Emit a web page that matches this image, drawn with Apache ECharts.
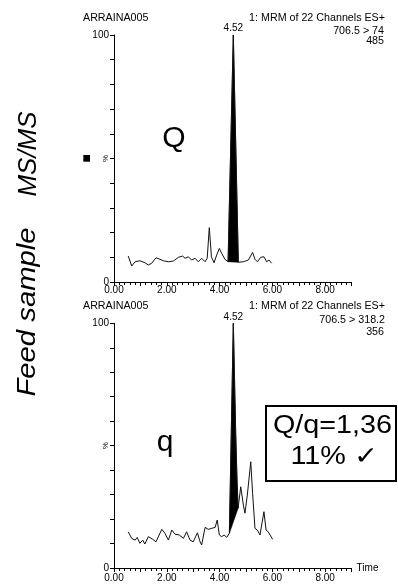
<!DOCTYPE html>
<html><head><meta charset="utf-8">
<script src="https://cdn.jsdelivr.net/npm/echarts@6/dist/echarts.min.js"></script>
<style>html,body{margin:0;padding:0;background:#fff}#c{width:398px;height:584px}</style>
</head><body><div id="c"></div>
<script>
// ---- data ----
const xTickLabels = ['0.00', '2.00', '4.00', '6.00', '8.00'];
const yTickLabels = ['0', '100'];

// Q trace: 706.5 > 74
const topTime = [0.54,0.67,0.80,0.98,1.17,1.30,1.43,1.59,1.74,1.87,2.06,2.25,2.44,2.60,2.69,2.82,2.94,3.07,3.19,3.32,3.45,3.53,3.61,3.69,3.79,3.89,3.99,4.08,4.20,4.32,4.52,4.71,4.75,4.90,5.09,5.25,5.34,5.43,5.56,5.68,5.78,5.87,5.97];
const topValue = [10.5,6.5,8.2,8.6,7.8,6.9,7.6,9.8,9.2,8.6,8.2,8.5,10.0,10.5,9.6,10.2,8.9,9.6,8.2,9.6,8.2,9.6,22.0,10.2,7.8,10.9,13.6,11.6,9.2,8.2,100,8.0,7.8,8.2,8.9,12.0,9.2,8.2,10.0,10.2,8.2,8.9,7.6];
const topPeakTime = [4.32,4.52,4.71];
const topPeakValue = [8.2,100,8.0];

// q trace: 706.5 > 318.2
const botTime = [0.54,0.67,0.80,0.88,0.98,1.09,1.17,1.30,1.47,1.59,1.81,1.93,2.06,2.19,2.31,2.47,2.63,2.75,2.88,3.00,3.16,3.26,3.32,3.45,3.57,3.70,3.83,3.91,3.99,4.08,4.17,4.27,4.37,4.52,4.61,4.66,4.70,4.80,4.90,4.96,5.05,5.10,5.18,5.25,5.34,5.43,5.53,5.68,5.76,5.84,6.01];
const botValue = [14.8,12.1,11.4,12.5,10.1,11.4,9.8,12.8,11.7,10.7,15.8,14.2,11.4,15.5,13.8,13.5,12.1,14.8,11.4,10.7,14.4,10.7,9.4,16.6,15.8,16.2,16.6,19.6,13.5,12.8,13.5,12.5,14.2,100,55,36,24.4,33.2,25.7,22.4,29.8,29.1,43.4,30.5,16.2,15.5,13.5,23.0,15.5,14.8,11.7];
const botPeakTime = [4.37,4.52,4.61,4.66,4.70];
const botPeakValue = [14.2,100,55,36,24.4];

const peakTimeLabel = '4.52';

// ---- chart ----
const FONT = '"Liberation Sans", Arial, sans-serif';
const chart = echarts.init(document.getElementById('c'), null, {renderer: 'canvas'});
const zip = (a, b) => a.map((v, i) => [v, b[i]]);

function mkX(idx, margin, name) {
  return {
    type: 'value', gridIndex: idx, min: 0, max: 9, interval: 1,
    name: name || '', nameLocation: 'end', nameGap: 5, nameMoveOverlap: false,
    nameTextStyle: {color: '#000', fontSize: 10, fontFamily: FONT, verticalAlign: 'middle'},
    axisLine: {show: true, lineStyle: {color: '#000', width: 1}},
    axisTick: {show: true, length: 4, lineStyle: {color: '#000'}},
    minorTick: {show: true, splitNumber: 5, length: 3, lineStyle: {color: '#000'}},
    splitLine: {show: false}, minorSplitLine: {show: false},
    axisLabel: {
      show: true, margin: margin, color: '#000', fontSize: 10, fontFamily: FONT,
      formatter: v => { const s = xTickLabels.find(t => parseFloat(t) === v); return s || ''; }
    }
  };
}
function mkY(idx) {
  return {
    type: 'value', gridIndex: idx, min: 0, max: 100, interval: 10,
    name: '%', nameLocation: 'middle', nameGap: 4, nameRotate: 90, nameMoveOverlap: false,
    nameTextStyle: {color: '#000', fontSize: 8, fontFamily: FONT},
    axisLine: {show: true, lineStyle: {color: '#000', width: 1}},
    axisTick: {show: true, length: 4, lineStyle: {color: '#000'}},
    splitLine: {show: false},
    axisLabel: {
      show: true, margin: 5, color: '#000', fontSize: 10, fontFamily: FONT,
      formatter: v => { const s = yTickLabels.find(t => parseFloat(t) === v); return s || ''; }
    }
  };
}
function lineSeries(idx, t, v) {
  return {
    type: 'line', xAxisIndex: idx, yAxisIndex: idx, data: zip(t, v),
    showSymbol: false, symbol: 'none', smooth: false,
    lineStyle: {color: '#111', width: 1}, z: 3, silent: true,
    markPoint: {
      symbol: 'rect', symbolSize: 1, itemStyle: {color: 'rgba(0,0,0,0)'},
      label: {show: true, position: 'top', distance: 1, formatter: peakTimeLabel, color: '#000', fontSize: 10, fontFamily: FONT},
      data: [{coord: [parseFloat(peakTimeLabel), 100]}]
    }
  };
}
function fillSeries(idx, t, v) {
  return {
    type: 'custom', xAxisIndex: idx, yAxisIndex: idx, silent: true, z: 2,
    data: [[t[0], v[0]]],
    renderItem: (p, api) => ({
      type: 'polygon',
      shape: {points: t.map((x, i) => api.coord([x, v[i]]))},
      style: {fill: '#000', stroke: '#000', lineWidth: 0.6}
    })
  };
}
function txt(text, x, y, size, align, opts) {
  opts = opts || {};
  return {
    type: 'text', x: x, y: y, rotation: opts.rot || 0, scaleX: opts.sx || 1, silent: true,
    style: {text: text, fontSize: size, fontFamily: FONT, fontStyle: opts.italic ? 'italic' : 'normal',
      fill: '#000', align: align, verticalAlign: 'middle'}
  };
}

const option = {
  animation: false,
  backgroundColor: '#fff',
  grid: [
    {left: 114, top: 35, width: 237.6, height: 247},
    {left: 114, top: 323.3, width: 237.6, height: 244.7}
  ],
  xAxis: [mkX(0, 3), mkX(1, 5, 'Time')],
  yAxis: [mkY(0), mkY(1)],
  series: [
    fillSeries(0, topPeakTime, topPeakValue),
    lineSeries(0, topTime, topValue),
    fillSeries(1, botPeakTime, botPeakValue),
    lineSeries(1, botTime, botValue)
  ],
  graphic: [
    txt('ARRAINA005', 83, 18.5, 10, 'left', {sx: 1.07}),
    txt('1: MRM of 22 Channels ES+', 385, 18.3, 10, 'right', {sx: 1.07}),
    txt('706.5 > 74', 384, 31, 10, 'right', {sx: 1.07}),
    txt('485', 384, 41.7, 10, 'right', {sx: 1.07}),
    txt('ARRAINA005', 83, 306, 10, 'left', {sx: 1.07}),
    txt('1: MRM of 22 Channels ES+', 385, 306, 10, 'right', {sx: 1.07}),
    txt('706.5 > 318.2', 385, 320.7, 10, 'right', {sx: 1.07}),
    txt('356', 384, 332.7, 10, 'right', {sx: 1.07}),
    txt('MS/MS', 29.3, 154, 25, 'center', {rot: Math.PI / 2, italic: true, sx: 1.04}),
    txt('Feed sample', 28.5, 312, 25, 'center', {rot: Math.PI / 2, italic: true, sx: 1.17}),
    {type: 'rect', shape: {x: 83.3, y: 155, width: 6.7, height: 6.7}, style: {fill: '#000'}, silent: true},
    txt('Q', 174, 139.2, 30, 'center'),
    txt('q', 165, 443.2, 30, 'center'),
    {type: 'rect', shape: {x: 266, y: 406, width: 130, height: 75}, style: {fill: '#fff', stroke: '#000', lineWidth: 2}, silent: true, z: 10},
    {type: 'text', x: 332.5, y: 426, scaleX: 1.15, z: 11, silent: true,
      style: {text: 'Q/q=1,36', fontSize: 25, fontFamily: FONT, fill: '#000', align: 'center', verticalAlign: 'middle'}},
    {type: 'text', x: 334.2, y: 457.5, scaleX: 1.15, z: 11, silent: true,
      style: {text: '11% ✓', fontSize: 25, fontFamily: FONT, fill: '#000', align: 'center', verticalAlign: 'middle'}}
  ]
};
chart.setOption(option);
</script>
</body></html>
